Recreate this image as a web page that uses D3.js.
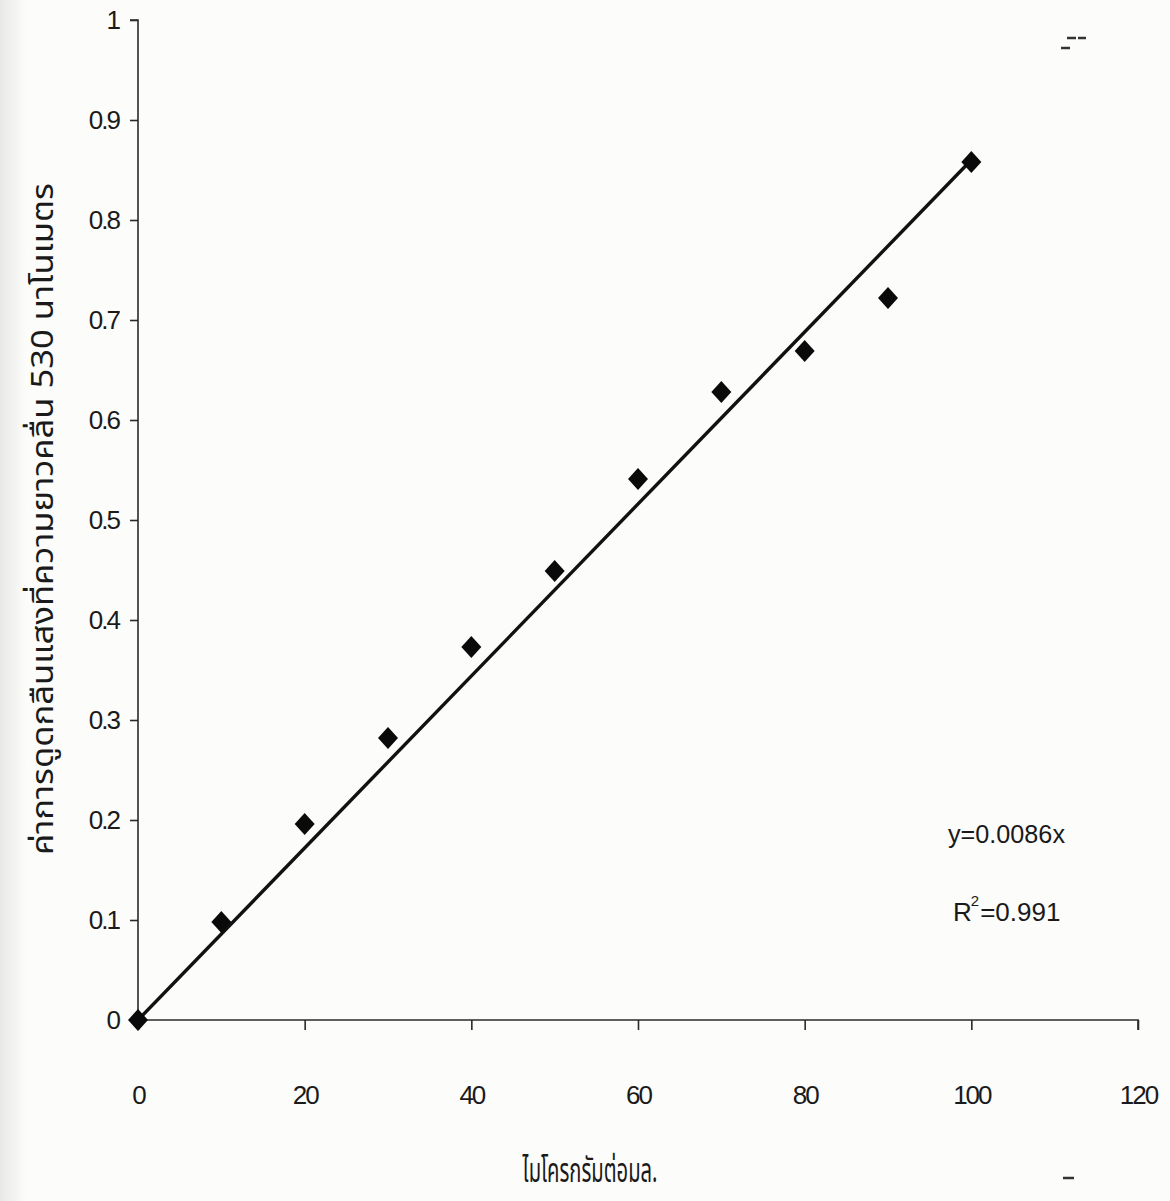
<!DOCTYPE html>
<html>
<head>
<meta charset="utf-8">
<script src="https://cdn.jsdelivr.net/npm/d3@7"></script>
<style>
  html, body { margin: 0; padding: 0; background: #fcfcfb; }
  svg { display: block; }
</style>
</head>
<body>
<script>
// Standard curve: concentration (µg/ml) vs absorbance at 530 nm
const concentration = [0, 10, 20, 30, 40, 50, 60, 70, 80, 90, 100];
const absorbance = [0, 0.098, 0.196, 0.282, 0.373, 0.449, 0.541, 0.628, 0.669, 0.722, 0.858];
const slope = 0.0086;
const rSquared = 0.991;
const xTicks = [0, 20, 40, 60, 80, 100, 120];
const yTicks = [0, 0.1, 0.2, 0.3, 0.4, 0.5, 0.6, 0.7, 0.8, 0.9, 1];
const xTitle = "ไมโครกรัมต่อมล.";
const yTitle = "ค่าการดูดกลืนแสงที่ความยาวคลื่น 530 นาโนเมตร";

const W = 1170, H = 1201;
const svg = d3.select("body").append("svg").attr("width", W).attr("height", H);

// faint scanner shading along the left edge
const grad = svg.append("defs").append("linearGradient").attr("id", "edge");
grad.append("stop").attr("offset", "0%").attr("stop-color", "#e8e8e6");
grad.append("stop").attr("offset", "100%").attr("stop-color", "#fcfcfb");
svg.append("rect").attr("x", 0).attr("y", 0).attr("width", 26).attr("height", H).attr("fill", "url(#edge)");

const x = d3.scaleLinear().domain([0, 120]).range([138, 1138]);
const y = d3.scaleLinear().domain([0, 1]).range([1020, 20]);

const tickFont = "'Liberation Sans Narrow', 'Arial Narrow', 'Liberation Sans', sans-serif";
const thaiFont = "'Noto Sans Thai', 'Noto Sans Thai Looped', 'Noto Sans', 'DejaVu Sans', sans-serif";
const ink = "#2a2a2a";

// y axis
const yAxis = svg.append("g").attr("transform", `translate(${x(0)},0)`)
  .call(d3.axisLeft(y).tickValues(yTicks).tickSize(8).tickPadding(11)
    .tickFormat(d => d === 0 || d === 1 ? String(d) : d3.format(".1f")(d)));
// x axis
const xAxis = svg.append("g").attr("transform", `translate(0,${y(0)})`)
  .call(d3.axisBottom(x).tickValues(xTicks).tickSize(10).tickPadding(56).tickFormat(d3.format("d")));

[yAxis, xAxis].forEach(g => {
  g.select(".domain").attr("stroke", ink).attr("stroke-width", 1.6);
  g.selectAll(".tick line").attr("stroke", ink).attr("stroke-width", 1.6);
  g.selectAll(".tick text").attr("fill", "#1a1a1a")
    .style("font-family", tickFont).style("font-size", "26px").style("letter-spacing", "-2px");
});
yAxis.select(".domain").attr("d", `M-8,${y(1)}H0V${y(0)}`);
xAxis.select(".domain").attr("d", `M${x(0)},0H${x(120)}V10`);

// fitted line y = slope * x
svg.append("line")
  .attr("x1", x(0)).attr("y1", y(0))
  .attr("x2", x(100)).attr("y2", y(slope * 100))
  .attr("stroke", "#111").attr("stroke-width", 3.4);

// data points as diamonds (half-width 10, half-height 11)
const diamondPath = "M0,-11L10,0L0,11L-10,0Z";
svg.append("g").selectAll("path")
  .data(concentration.map((c, i) => [c, absorbance[i]]))
  .join("path")
  .attr("d", diamondPath)
  .attr("transform", d => `translate(${x(d[0])},${y(d[1])})`)
  .attr("fill", "#0a0a0a");

// regression annotation
const ann = svg.append("g").style("font-family", tickFont).style("font-size", "26px").attr("fill", "#1a1a1a");
ann.append("text").attr("x", 948).attr("y", 843)
  .attr("textLength", 117).attr("lengthAdjust", "spacingAndGlyphs")
  .text(`y=${slope}x`);
const r2 = ann.append("text").attr("x", 953).attr("y", 921);
r2.append("tspan").text("R");
r2.append("tspan").attr("dy", -15).attr("dx", -1).style("font-size", "15px").text("2");
r2.append("tspan").attr("dy", 15).attr("dx", 1).text(`=${rSquared}`);

// axis titles
svg.append("text")
  .attr("x", 590).attr("y", 1182).attr("text-anchor", "middle")
  .attr("textLength", 135).attr("lengthAdjust", "spacingAndGlyphs")
  .style("font-family", thaiFont).style("font-size", "34px").attr("fill", "#1a1a1a")
  .text(xTitle);
svg.append("text")
  .attr("transform", `translate(53,519) rotate(-90)`).attr("text-anchor", "middle")
  .attr("textLength", 672).attr("lengthAdjust", "spacingAndGlyphs")
  .style("font-family", thaiFont).style("font-size", "30px").attr("fill", "#1a1a1a")
  .text(yTitle);

// small stray marks near the right margin
svg.append("g").attr("stroke", "#333").attr("stroke-width", 2.5)
  .selectAll("line").data([[1067, 38, 1076], [1078, 38, 1086], [1061, 48, 1070], [1063, 1178, 1074]])
  .join("line").attr("x1", d => d[0]).attr("y1", d => d[1]).attr("x2", d => d[2]).attr("y2", d => d[1]);
</script>
</body>
</html>
